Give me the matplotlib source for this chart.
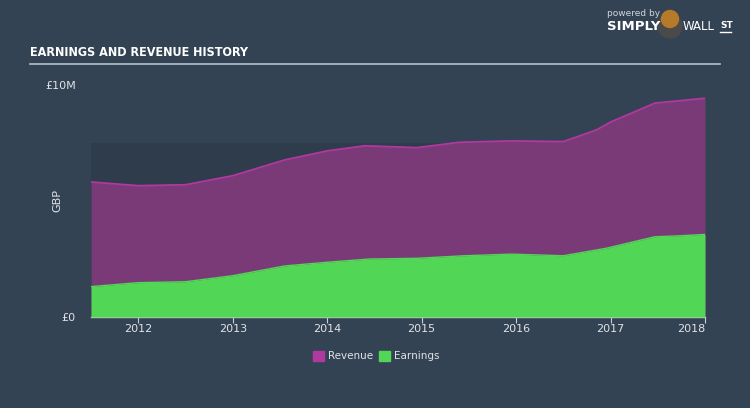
import matplotlib
matplotlib.use("Agg")
import matplotlib.pyplot as plt
from matplotlib.patches import Rectangle, Ellipse
from matplotlib import font_manager
import numpy as np

# Data (GBP millions)
rev_years = [2011.5, 2012.0, 2012.5, 2013.0, 2013.55, 2014.0, 2014.4, 2014.95,
             2015.4, 2015.95, 2016.5, 2016.85, 2017.0, 2017.47, 2017.73, 2018.0]
revenue = [5.82, 5.66, 5.70, 6.09, 6.77, 7.16, 7.38, 7.30,
           7.53, 7.59, 7.56, 8.06, 8.40, 9.22, 9.32, 9.43]
earn_years = [2011.5, 2012.0, 2012.5, 2013.0, 2013.55, 2014.0, 2014.45, 2014.95,
              2015.45, 2015.95, 2016.5, 2016.95, 2017.47, 2017.73, 2018.0]
earnings = [1.31, 1.48, 1.52, 1.78, 2.20, 2.36, 2.50, 2.53,
            2.64, 2.71, 2.64, 2.96, 3.46, 3.50, 3.56]
xticks = [2012, 2013, 2014, 2015, 2016, 2017, 2018]
xtick_labels = ["2012", "2013", "2014", "2015", "2016", "2017", "2018"]
series_names = ["Revenue", "Earnings"]

BG = "#344354"
PANEL = "#2e3c4b"
REV_FILL = "#7a3a77"
REV_LINE = "#b0399f"
EARN = "#52d655"
TXT = "#dfe3e8"

plt.rcParams['font.family'] = ['DejaVu Sans']
names = {f.name for f in font_manager.fontManager.ttflist}
title_family = 'DejaVu Sans'
for cand in ['Liberation Sans Narrow', 'DejaVu Sans Condensed']:
    if cand in names:
        title_family = cand
        break

fig = plt.figure(figsize=(7.5, 4.08), dpi=100, facecolor=BG)
W, H = 750, 408
left, right, y0, y10 = 91, 705, 317, 85
ax = fig.add_axes([left / W, (H - y0) / H, (right - left) / W, (y0 - y10) / H])
ax.set_facecolor(BG)
ax.set_xlim(2011.5, 2018.0)
ax.set_ylim(0, 10)

# darker panel
ax.add_patch(Rectangle((2011.5, 0), 6.5, 7.5, facecolor=PANEL, edgecolor='none', zorder=0))

ax.fill_between(rev_years, revenue, 0, color=REV_FILL, zorder=1, linewidth=0)
ax.plot(rev_years, revenue, color=REV_LINE, lw=1.3, zorder=2)
ax.fill_between(earn_years, earnings, 0, color=EARN, zorder=3, linewidth=0)
ax.plot(earn_years, earnings, color=EARN, lw=1.0, zorder=3)

for s in ['top', 'right', 'left']:
    ax.spines[s].set_visible(False)
ax.spines['bottom'].set_color('#c8ced6')
ax.spines['bottom'].set_linewidth(1)
ax.set_xticks(xticks)
ax.set_xticklabels(xtick_labels)
ax.tick_params(axis='x', colors='#c8ced6', labelcolor=TXT, labelsize=8, length=4, width=0.8, pad=1)
for lab in ax.get_xticklabels():
    if lab.get_text() == "2018":
        lab.set_horizontalalignment('right')
ax.set_yticks([0, 10])
ax.set_yticklabels(["£0", "£10M"])
ax.tick_params(axis='y', length=0, labelcolor=TXT, labelsize=8, pad=11)
ax.set_ylabel("GBP", color=TXT, fontsize=8, labelpad=12)
ax.yaxis.set_label_coords(-0.047, 0.5)

# title
fig.text(30 / W, 1 - 52 / H, "EARNINGS AND REVENUE HISTORY", color='white', fontsize=9,
         fontweight='bold', fontstretch='condensed', family=title_family, va='center', ha='left')
fig.add_artist(plt.Line2D([30 / W, 720 / W], [1 - 64 / H, 1 - 64 / H], color='#b8c2cc', lw=1.2))

# logo
fig.text(607 / W, 1 - 14 / H, "powered by", color='#cfd5dc', fontsize=6.5, va='center', ha='left')
fig.text(607 / W, 1 - 27 / H, "SIMPLY", color='white', fontsize=9.5, fontweight='bold', va='center', ha='left')
fig.add_artist(Ellipse((670 / W, 1 - 26 / H), 24 / W, 24 / H, transform=fig.transFigure, color='#4a4a4a'))
fig.add_artist(Ellipse((670 / W, 1 - 19 / H), 17 / W, 17 / H, transform=fig.transFigure, color='#b57a2a'))
fig.text(683 / W, 1 - 27 / H, "WALL", color='white', fontsize=8.5, va='center', ha='left')
fig.text(720 / W, 1 - 26 / H, "ST", color='white', fontsize=6.5, fontweight='bold', va='center', ha='left')
fig.add_artist(plt.Line2D([720 / W, 731 / W], [1 - 32 / H, 1 - 32 / H], color='white', lw=1))

# legend
ly = 1 - 356 / H
fig.add_artist(Rectangle((313 / W, ly - 5 / H), 11 / W, 10 / H, transform=fig.transFigure, color='#b0399f'))
fig.text(328 / W, ly, series_names[0], color=TXT, fontsize=7.5, va='center', ha='left')
fig.add_artist(Rectangle((379 / W, ly - 5 / H), 11 / W, 10 / H, transform=fig.transFigure, color=EARN))
fig.text(394 / W, ly, series_names[1], color=TXT, fontsize=7.5, va='center', ha='left')

fig.savefig("out.png", dpi=100, facecolor=BG)
